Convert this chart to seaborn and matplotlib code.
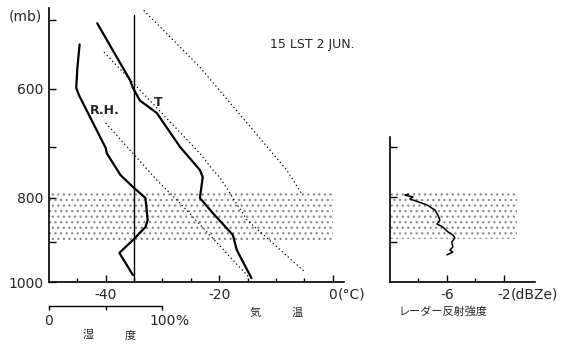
import seaborn as sns
import matplotlib.pyplot as plt
import pandas as pd
import numpy as np
from matplotlib.ticker import FixedLocator, NullLocator, FixedFormatter

sns.set_style("ticks")
plt.rcParams['font.family'] = ['DejaVu Sans', 'Noto Sans CJK JP']
plt.rcParams['hatch.linewidth'] = 0.9

# Temperature profile (deg C vs mb)
temp_p = [505, 587, 599, 619, 640, 700, 744, 758, 801, 834, 883, 919, 990]
temp_c = [-41.5, -35.7, -35.2, -34.0, -31.0, -26.9, -23.4, -22.9, -23.4, -21.1, -17.6, -16.9, -14.3]

# Relative humidity profile (% vs mb)
rh_p = [534, 568, 599, 611, 702, 712, 754, 778, 801, 849, 865, 895, 926, 982]
rh_pct = [27, 25, 24, 26.5, 50, 51, 63, 74, 85, 87, 85, 74, 62, 74]

# Reference (adiabat) dotted lines
adiabat1_p = [488, 567, 744, 760, 795]
adiabat1_c = [-33.3, -23.4, -8.1, -7.2, -5.3]
adiabat2_p = [545, 712, 744, 760, 849, 974]
adiabat2_c = [-40.3, -23.4, -21.1, -19.8, -15.1, -4.9]
adiabat3_p = [657, 764, 812, 990]
adiabat3_c = [-40.0, -31.0, -26.9, -14.6]

# Radar reflectivity profile (dBZe vs mb)
radar_p = [793, 795, 799, 803, 816, 827, 838, 849, 858, 865, 876, 883, 890, 900, 912, 919, 924, 931]
radar_dbz = [-8.7, -8.95, -8.39, -8.6, -7.4, -6.84, -6.63, -6.49, -6.7, -6.28, -5.93, -5.58,
             -5.44, -5.65, -5.58, -5.79, -5.58, -6.0]

# Cloud layer (stippled band) and reference isotherm
layer_top, layer_bottom = 785, 897
ref_temp = -35

fig = plt.figure(figsize=(5.71, 3.45), dpi=100)
ax = fig.add_axes([49 / 571, 1 - 282 / 345, (344 - 49) / 571, 274 / 345])

# stippled layer
ax.fill_betweenx([layer_top, layer_bottom], -50, 0, facecolor='none',
                 hatch='...', edgecolor='0.55', linewidth=0)

for tc, tp in [(adiabat1_c, adiabat1_p), (adiabat2_c, adiabat2_p), (adiabat3_c, adiabat3_p)]:
    sns.lineplot(x=tc, y=tp, sort=False, estimator=None, ax=ax, color='black',
                 lw=0.9, linestyle=(0, (1, 2.2)))

sns.lineplot(x=temp_c, y=temp_p, sort=False, estimator=None, ax=ax, color='black', lw=1.6)
ax.plot([ref_temp, ref_temp], [494, 1000], color='black', lw=1.0)

# RH on a second x axis below the temperature axis (shares the pressure axis)
ax.set_yscale('log')
ax_rh = ax.twiny()
ax_rh.set_xlim(0, 260)
sns.lineplot(x=rh_pct, y=rh_p, sort=False, estimator=None, ax=ax_rh, color='black', lw=1.6)

ax.set_ylim(1000, 485)
ax.set_xlim(-50, 2)
ax.yaxis.set_major_locator(FixedLocator([500, 600, 700, 800, 900, 1000]))
ax.yaxis.set_major_formatter(FixedFormatter(['', '600', '', '800', '', '1000']))
ax.yaxis.set_minor_locator(NullLocator())
ax.xaxis.set_major_locator(FixedLocator([-40, -20, 0]))
ax.xaxis.set_major_formatter(FixedFormatter(['-40', '-20', '0']))
ax.xaxis.set_minor_locator(FixedLocator([-45, -35, -30, -25, -15, -10, -5]))
ax.tick_params(axis='both', which='major', direction='in', length=5, width=1, labelsize=10,
               pad=4, color='black')
ax.tick_params(axis='x', which='minor', direction='in', length=3, width=1, color='black')
for s in ['top', 'right']:
    ax.spines[s].set_visible(False)
for s in ['left', 'bottom']:
    ax.spines[s].set_linewidth(1.2)
    ax.spines[s].set_color('black')
ax.set_xlabel('')
ax.set_ylabel('')
ax.patch.set_alpha(0)

ax.annotate('(°C)', xy=(0, 0), xycoords=('data', 'axes fraction'), xytext=(4, -4),
            textcoords='offset points', ha='left', va='top', fontsize=10)
ax.text(0.75, 0.865, '15 LST 2 JUN.', transform=ax.transAxes, fontsize=9, ha='left', va='center')
ax.text(-40.1, 635, 'R.H.', fontsize=9, fontweight='bold', ha='center', va='center')
ax.text(-30.8, 622, 'T', fontsize=9, fontweight='bold', ha='center', va='center')

ax_rh.xaxis.set_ticks_position('bottom')
ax_rh.xaxis.set_label_position('bottom')
ax_rh.spines['bottom'].set_position(('outward', 17))
ax_rh.spines['bottom'].set_bounds(0, 100)
ax_rh.spines['bottom'].set_linewidth(1.0)
ax_rh.spines['bottom'].set_color('black')
for s in ['top', 'right', 'left']:
    ax_rh.spines[s].set_visible(False)
ax_rh.xaxis.set_major_locator(FixedLocator([0, 50, 100]))
ax_rh.xaxis.set_major_formatter(FixedFormatter(['0', '', '100']))
ax_rh.xaxis.set_minor_locator(NullLocator())
ax_rh.tick_params(axis='x', direction='out', length=3, width=1, labelsize=10, pad=3, color='black')
ax_rh.set_xlabel('')
ax_rh.set_ylabel('')
ax_rh.annotate('%', xy=(100, 0), xycoords=('data', 'axes fraction'), xytext=(9.5, -23),
               textcoords='offset points', ha='left', va='top', fontsize=10)

fig.text(25 / 571, 1 - 17 / 345, '(mb)', ha='center', va='center', fontsize=10)
fig.text(88 / 571, 1 - 335 / 345, '湿', ha='center', va='center', fontsize=8)
fig.text(130 / 571, 1 - 335 / 345, '度', ha='center', va='center', fontsize=8)
fig.text(255 / 571, 1 - 313 / 345, '気', ha='center', va='center', fontsize=8)
fig.text(297 / 571, 1 - 313 / 345, '温', ha='center', va='center', fontsize=8)

# Radar reflectivity panel
ax2 = fig.add_axes([390 / 571, 1 - 282 / 345, (535 - 390) / 571, 145 / 345])
ax2.fill_betweenx([layer_top, layer_bottom - 5], -10, -1.1, facecolor='none',
                  hatch='...', edgecolor='0.55', linewidth=0)
sns.lineplot(x=radar_dbz, y=radar_p, sort=False, estimator=None, ax=ax2, color='black', lw=1.1)
ax2.set_yscale('log')
ax2.set_ylim(1000, 682)
ax2.set_xlim(-10, 0.2)
ax2.yaxis.set_major_locator(FixedLocator([700, 800, 900]))
ax2.yaxis.set_major_formatter(FixedFormatter(['', '', '']))
ax2.yaxis.set_minor_locator(NullLocator())
ax2.xaxis.set_major_locator(FixedLocator([-6, -2]))
ax2.xaxis.set_major_formatter(FixedFormatter(['-6', '-2']))
ax2.xaxis.set_minor_locator(FixedLocator([-8, -4]))
ax2.tick_params(axis='both', which='major', direction='in', length=5, width=1, labelsize=10,
                pad=4, color='black')
ax2.tick_params(axis='x', which='minor', direction='in', length=3, width=1, color='black')
for s in ['top', 'right']:
    ax2.spines[s].set_visible(False)
for s in ['left', 'bottom']:
    ax2.spines[s].set_linewidth(1.2)
    ax2.spines[s].set_color('black')
ax2.set_xlabel('')
ax2.set_ylabel('')
ax2.patch.set_alpha(0)
ax2.annotate('(dBZe)', xy=(-2, 0), xycoords=('data', 'axes fraction'), xytext=(5, -4),
             textcoords='offset points', ha='left', va='top', fontsize=10)
fig.text(443 / 571, 1 - 312 / 345, 'レーダー反射強度', ha='center', va='center', fontsize=8)

plt.savefig('out.png', dpi=100)
